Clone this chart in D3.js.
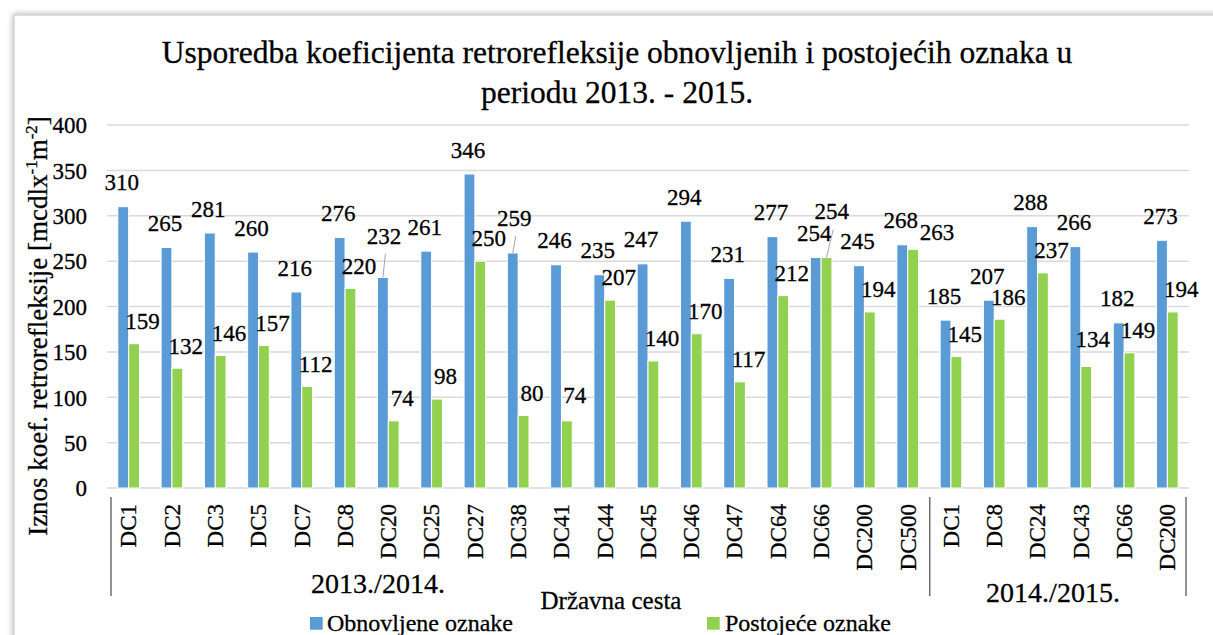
<!DOCTYPE html>
<html>
<head>
<meta charset="utf-8">
<script src="https://cdn.jsdelivr.net/npm/d3@7"></script>
<style>
  body { margin: 0; background: #fff; }
  svg { display: block; }
  svg text { fill: #000; stroke: #000; stroke-width: 0.3px; }
</style>
</head>
<body>
<svg id="chart" width="1213" height="635"></svg>
<script>
// Road sections (state roads) measured in each period
const categories = ["DC1","DC2","DC3","DC5","DC7","DC8","DC20","DC25","DC27","DC38","DC41",
  "DC44","DC45","DC46","DC47","DC64","DC66","DC200","DC500",
  "DC1","DC8","DC24","DC43","DC66","DC200"];
const periodLabels = ["2013./2014.", "2014./2015."];
const periodSizes = [19, 6];

// Retroreflection coefficient [mcd lx^-1 m^-2]
const obnovljene = [310,265,281,260,216,276,232,261,346,259,246,235,247,294,231,277,254,245,268,
  185,207,288,266,182,273];
const postojece = [159,132,146,157,112,220,74,98,250,80,74,207,140,170,117,212,254,194,263,
  145,186,237,134,149,194];

const seriesNames = ["Obnovljene oznake", "Postoje\u0107e oznake"];
const yTicks = [0, 50, 100, 150, 200, 250, 300, 350, 400];

const colors = ["#5B9BD5", "#92D050"];
const FONT = "'Liberation Serif', 'Times New Roman', Times, serif";

const svg = d3.select("#chart").style("font-family", FONT);

// chart frame with soft shadow
const defs = svg.append("defs");
const f = defs.append("filter").attr("id", "shadow")
  .attr("x", "-5%").attr("y", "-5%").attr("width", "110%").attr("height", "110%");
f.append("feGaussianBlur").attr("in", "SourceAlpha").attr("stdDeviation", 3).attr("result", "b");
f.append("feComponentTransfer").attr("in", "b").attr("result", "s")
  .append("feFuncA").attr("type", "linear").attr("slope", 0.35);
const fm = f.append("feMerge");
fm.append("feMergeNode").attr("in", "s");
fm.append("feMergeNode").attr("in", "SourceGraphic");

svg.append("rect")
  .attr("x", 14).attr("y", 15).attr("width", 1240).attr("height", 660)
  .attr("fill", "#fff").attr("stroke", "#d4d4d4").attr("stroke-width", 1.5)
  .attr("filter", "url(#shadow)");

// scales
const x = d3.scaleBand().domain(d3.range(categories.length)).range([107, 1189]).padding(0);
const inner = d3.scaleBand().domain([0, 1]).range([0, x.bandwidth()])
  .paddingInner(0).paddingOuter(1);
const y = d3.scaleLinear().domain([0, 400]).range([488, 125]);

// title
const title = svg.append("text").attr("text-anchor", "middle")
  .style("font-family", FONT).style("font-size", "31.5px");
title.append("tspan").attr("x", 617).attr("y", 63)
  .text("Usporedba koeficijenta retrorefleksije obnovljenih i postoje\u0107ih oznaka u");
title.append("tspan").attr("x", 617).attr("y", 103).text("periodu 2013. - 2015.");

// gridlines
svg.append("g").selectAll("line").data(yTicks).join("line")
  .attr("x1", x.range()[0]).attr("x2", x.range()[1])
  .attr("y1", d => y(d)).attr("y2", d => y(d))
  .attr("stroke", "#d9d9d9").attr("stroke-width", 1.5);

// y axis
const yAxis = svg.append("g").attr("transform", `translate(${x.range()[0]},0)`)
  .call(d3.axisLeft(y).tickValues(yTicks).tickSize(0).tickPadding(20));
yAxis.attr("font-family", null).attr("font-size", null);
yAxis.select(".domain").remove();
yAxis.selectAll("text").style("font-family", FONT).style("font-size", "23px")
  .attr("fill", "#000").attr("dy", "0.34em");

// y axis title
const yt = svg.append("text")
  .attr("transform", "translate(47,326) rotate(-90)")
  .attr("text-anchor", "middle")
  .style("font-family", FONT).style("font-size", "27px");
yt.append("tspan").text("Iznos koef. retrorefleksije [mcdlx");
yt.append("tspan").style("font-size", "17px").attr("dy", -10).text("-1");
yt.append("tspan").attr("dy", 10).text("m");
yt.append("tspan").style("font-size", "17px").attr("dy", -10).text("-2");
yt.append("tspan").attr("dy", 10).text("]");

// bars
const series = [obnovljene, postojece];
const barsG = svg.append("g");
series.forEach((vals, s) => {
  barsG.append("g").selectAll("rect").data(vals).join("rect")
    .attr("x", (d, i) => x(i) + inner(s))
    .attr("width", inner.bandwidth())
    .attr("y", d => y(d))
    .attr("height", d => y(0) - y(d))
    .attr("fill", colors[s])
    .attr("stroke", "#fff").attr("stroke-width", 1);
});

// data labels; a few were pulled away from crowded spots and get a leader line
const labelShift = [{dx: -1.5, dy: -24.3}, {dx: 8.5, dy: -22.5}];
const labelNudge = {
  "0-6": {dx: 1, dy: -41.7, leader: true},
  "0-9": {dx: 1.5, dy: -35, leader: true},
  "1-16": {dx: 5.2, dy: -46, leader: true},
  "1-18": {dx: 23.8, dy: -17.3},
  "1-22": {dx: 6.5, dy: -27.3},
  "1-10": {dx: 8, dy: -26}
};
const labelsG = svg.append("g");
series.forEach((vals, s) => {
  vals.forEach((v, i) => {
    const cx = x(i) + inner(s) + inner.bandwidth() / 2;
    const top = y(v);
    const n = labelNudge[`${s}-${i}`] || labelShift[s];
    const lx = cx + n.dx, ly = top + n.dy;
    if (n.leader) {
      labelsG.append("line")
        .attr("x1", cx).attr("y1", top)
        .attr("x2", lx + 1.5).attr("y2", ly + 18)
        .attr("stroke", "#a6a6a6").attr("stroke-width", 1);
    }
    labelsG.append("text")
      .attr("x", lx).attr("y", ly).attr("dy", "0.34em")
      .attr("text-anchor", "middle")
      .style("font-family", FONT).style("font-size", "23px")
      .text(v);
  });
});

// x axis (category names, rotated)
const xAxis = svg.append("g").attr("transform", `translate(0,${y(0)})`)
  .call(d3.axisBottom(x).tickFormat(i => categories[i]).tickSize(0));
xAxis.attr("font-family", null).attr("font-size", null);
xAxis.select(".domain").remove();
xAxis.selectAll("text")
  .style("font-family", FONT).style("font-size", "23px").attr("fill", "#000")
  .attr("transform", "rotate(-90)")
  .attr("text-anchor", "end")
  .attr("x", -16).attr("y", 0).attr("dy", "0.34em");

// period group separators and labels
const bounds = [0];
periodSizes.forEach(sz => bounds.push(bounds[bounds.length - 1] + sz));
const sepX = bounds.map((b, k) => {
  const px = b < categories.length ? x(b) : x.range()[1];
  if (k === 0) return px + 4;
  if (k === bounds.length - 1) return px - 3;
  return px + 0.5;
});
svg.append("g").selectAll("line").data(sepX).join("line")
  .attr("x1", d => d).attr("x2", d => d)
  .attr("y1", 497).attr("y2", 596)
  .attr("stroke", "#262626").attr("stroke-width", 1);

const periodPos = [{x: 378, y: 592.5}, {x: 1053, y: 601.5}];
svg.append("g").selectAll("text").data(periodLabels).join("text")
  .attr("x", (d, k) => periodPos[k].x).attr("y", (d, k) => periodPos[k].y)
  .attr("text-anchor", "middle")
  .style("font-family", FONT).style("font-size", "28px")
  .text(d => d);

// x axis title
svg.append("text").attr("x", 611).attr("y", 609).attr("text-anchor", "middle")
  .style("font-family", FONT).style("font-size", "25px").text("Dr\u017eavna cesta");

// legend
const legendPos = [{x: 310, tx: 327}, {x: 707, tx: 725}];
const leg = svg.append("g").selectAll("g").data(seriesNames).join("g");
leg.append("rect")
  .attr("x", (d, k) => legendPos[k].x).attr("y", 617)
  .attr("width", 12.7).attr("height", 12.7)
  .attr("fill", (d, k) => colors[k]);
leg.append("text")
  .attr("x", (d, k) => legendPos[k].tx).attr("y", 631)
  .style("font-family", FONT).style("font-size", "24px")
  .text(d => d);
</script>
</body>
</html>
